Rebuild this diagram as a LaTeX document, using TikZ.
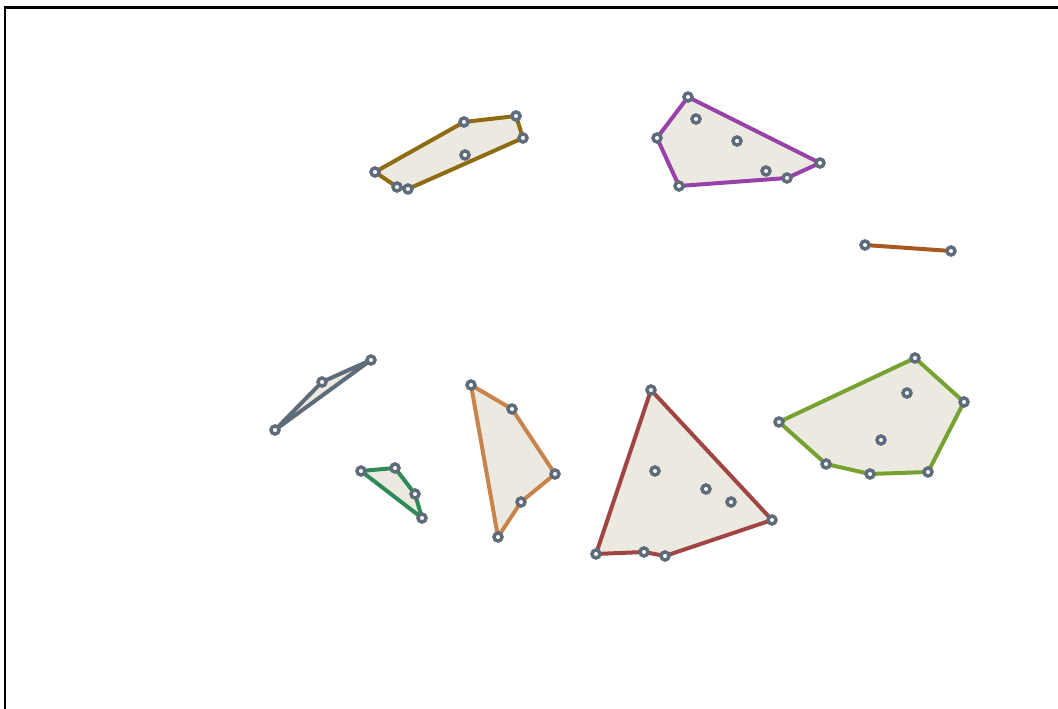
\documentclass[tikz,border=0pt]{standalone}
\begin{document}
\begin{tikzpicture}[x=0.75pt,y=-0.75pt,
  hull/.style={line width=3pt,line join=round,fill=hullfill},
  pt/.style={circle,draw=ptgray,fill=white,line width=2.6pt,minimum size=6pt,inner sep=0pt},
  frame/.style={draw=black,line width=1.6pt}]
\definecolor{hullfill}{HTML}{ECEAE0}
\definecolor{ptgray}{HTML}{5E6B7A}
\definecolor{cgold}{HTML}{8F6C12}
\definecolor{cpurple}{HTML}{9841A8}
\definecolor{crust}{HTML}{A8571E}
\definecolor{cslate}{HTML}{5E6B78}
\definecolor{cgreen}{HTML}{2E8B57}
\definecolor{corange}{HTML}{C8844A}
\definecolor{cred}{HTML}{A04444}
\definecolor{colive}{HTML}{77A232}
\useasboundingbox (0,0) rectangle (1058,709);
\draw[frame] (5,720) -- (5,7.5) -- (1070,7.5);
% gold
\coordinate (g1) at (375,172); \coordinate (g2) at (464,122); \coordinate (g3) at (516,116);
\coordinate (g4) at (523,138); \coordinate (g5) at (408,189); \coordinate (g6) at (397,187);
\draw[hull,draw=cgold] (g1)--(g2)--(g3)--(g4)--(g5)--(g6)--cycle;
% purple
\coordinate (p1) at (688,97); \coordinate (p2) at (820,163); \coordinate (p3) at (787,178);
\coordinate (p4) at (679,186); \coordinate (p5) at (657,138);
\draw[hull,draw=cpurple] (p1)--(p2)--(p3)--(p4)--(p5)--cycle;
% rust line
\coordinate (r1) at (865,245); \coordinate (r2) at (951,251);
\draw[hull,draw=crust] (r1)--(r2);
% slate
\coordinate (s1) at (275,430); \coordinate (s2) at (322,382); \coordinate (s3) at (371,360);
\draw[hull,draw=cslate] (s1)--(s2)--(s3)--cycle;
% green
\coordinate (n1) at (361,471); \coordinate (n2) at (395,468); \coordinate (n3) at (415,494); \coordinate (n4) at (422,518);
\draw[hull,draw=cgreen] (n1)--(n2)--(n3)--(n4)--cycle;
% orange
\coordinate (o1) at (471,385); \coordinate (o2) at (512,409); \coordinate (o3) at (555,474);
\coordinate (o4) at (521,502); \coordinate (o5) at (498,537);
\draw[hull,draw=corange] (o1)--(o2)--(o3)--(o4)--(o5)--cycle;
% red
\coordinate (d1) at (651,390); \coordinate (d2) at (772,520); \coordinate (d3) at (665,556);
\coordinate (d4) at (644,552); \coordinate (d5) at (596,554);
\draw[hull,draw=cred] (d1)--(d2)--(d3)--(d4)--(d5)--cycle;
% olive
\coordinate (v1) at (779,422); \coordinate (v2) at (915,358); \coordinate (v3) at (964,402);
\coordinate (v4) at (928,472); \coordinate (v5) at (870,474); \coordinate (v6) at (826,464);
\draw[hull,draw=colive] (v1)--(v2)--(v3)--(v4)--(v5)--(v6)--cycle;
% points
\foreach \c in {g1,g2,g3,g4,g5,g6,p1,p2,p3,p4,p5,r1,r2,s1,s2,s3,n1,n2,n3,n4,o1,o2,o3,o4,o5,d1,d2,d3,d4,d5,v1,v2,v3,v4,v5,v6}
  \node[pt] (m\c) at (\c) {};
\foreach \x/\y [count=\i] in {465/155,696/119,737/141,766/171,655/471,706/489,731/502,907/393,881/440}
  \node[pt] (q\i) at (\x,\y) {};
\end{tikzpicture}
\end{document}
